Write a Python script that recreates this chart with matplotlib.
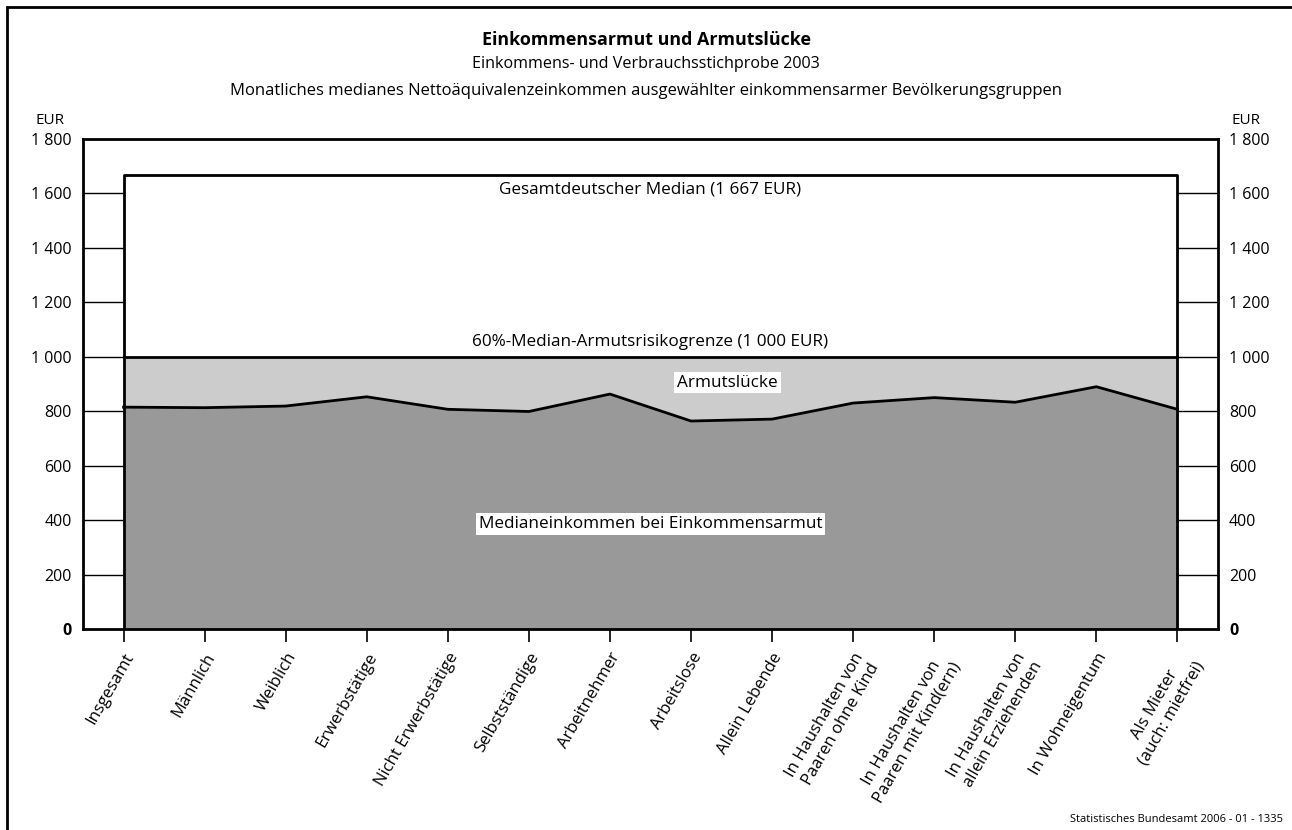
import matplotlib
matplotlib.use("Agg")
import matplotlib.pyplot as plt
import numpy as np

plt.rcParams['font.family'] = ['Open Sans', 'DejaVu Sans']

categories = ["Insgesamt", "Männlich", "Weiblich", "Erwerbstätige",
              "Nicht Erwerbstätige", "Selbstständige", "Arbeitnehmer",
              "Arbeitslose", "Allein Lebende",
              "In Haushalten von\nPaaren ohne Kind",
              "In Haushalten von\nPaaren mit Kind(ern)",
              "In Haushalten von\nallein Erziehenden",
              "In Wohneigentum", "Als Mieter\n(auch: mietfrei)"]
median_poor = [815, 813, 819, 853, 807, 799, 863, 764, 771, 830, 850, 833, 890, 807]
poverty_line = 1000
national_median = 1667
yticks = [0, 200, 400, 600, 800, 1000, 1200, 1400, 1600, 1800]
ytick_labels = ["0", "200", "400", "600", "800", "1 000", "1 200", "1 400", "1 600", "1 800"]

fig = plt.figure(figsize=(12.92, 8.30), dpi=100)
ax = fig.add_axes([83/1292, 1-629/830, (1218-83)/1292, (629-139)/830])

x = np.arange(len(categories))
ax.set_xlim(-0.5, len(categories) - 0.5)
ax.set_ylim(0, 1800)

# gridlines (only visible outside the box)
for t in yticks[1:-1]:
    ax.axhline(t, color='black', lw=1.0, zorder=0)

# white box up to national median
ax.fill_between(x, 0, national_median, color='white', zorder=1)
ax.plot([x[0], x[0], x[-1], x[-1]], [0, national_median, national_median, 0],
        color='black', lw=2.0, zorder=5)
# poverty gap
ax.fill_between(x, median_poor, poverty_line, color='#cccccc', zorder=2)
# median income of poor
ax.fill_between(x, 0, median_poor, color='#999999', zorder=3)
ax.plot(x, median_poor, color='black', lw=2.0, zorder=4)
ax.plot([x[0], x[-1]], [poverty_line, poverty_line], color='black', lw=2.0, zorder=4)

# labels inside
fs_in = 12.3
ax.text(6.5, 1615, "Gesamtdeutscher Median (1 667 EUR)", ha='center', va='center', fontsize=fs_in, zorder=6)
ax.text(6.5, 1055, "60%-Median-Armutsrisikogrenze (1 000 EUR)", ha='center', va='center', fontsize=fs_in, zorder=6)
ax.text(7.45, 905, "Armutslücke", ha='center', va='center', fontsize=fs_in, zorder=6,
        bbox=dict(facecolor='white', edgecolor='none', pad=2))
ax.text(6.5, 385, "Medianeinkommen bei Einkommensarmut", ha='center', va='center', fontsize=fs_in, zorder=6,
        bbox=dict(facecolor='white', edgecolor='none', pad=2))

for s in ax.spines.values():
    s.set_linewidth(2.0)
    s.set_zorder(10)

ax.set_yticks(yticks)
ax.set_yticklabels(ytick_labels)
ax.tick_params(axis='y', length=0, pad=8, labelsize=11.5, left=True, right=True,
               labelleft=True, labelright=True)
for t in ax.yaxis.get_major_ticks():
    if t.label2.get_text() == "0":
        t.label2.set_fontweight('bold')
    if t.label1.get_text() == "0":
        t.label1.set_fontweight('bold')

ax.set_xticks(x)
ax.set_xticklabels(categories, rotation=60, ha='right', rotation_mode='anchor',
                   multialignment='center', fontsize=12)
ax.tick_params(axis='x', length=9, width=1.2, pad=6, direction='out')

fig.text(50/1292, 1-121/830, "EUR", ha='center', va='center', fontsize=11)
fig.text(1246/1292, 1-121/830, "EUR", ha='center', va='center', fontsize=11)

fig.text(0.5, 1-40/830, "Einkommensarmut und Armutslücke", ha='center', va='center',
         fontsize=12.9, fontweight='bold')
fig.text(0.5, 1-64/830, "Einkommens- und Verbrauchsstichprobe 2003", ha='center', va='center', fontsize=11.6)
fig.text(0.5, 1-91/830, "Monatliches medianes Nettoäquivalenzeinkommen ausgewählter einkommensarmer Bevölkerungsgruppen",
         ha='center', va='center', fontsize=12)
fig.text(1283/1292, 1-819/830, "Statistisches Bundesamt 2006 - 01 - 1335", ha='right', va='center', fontsize=8)

# figure border
border = plt.Rectangle((7/1292, -0.01), 1.02, 1 - 7/830 + 0.01, transform=fig.transFigure,
                       fill=False, edgecolor='black', lw=2, zorder=20)
fig.patches.append(border)

fig.savefig("out.png", dpi=100)
